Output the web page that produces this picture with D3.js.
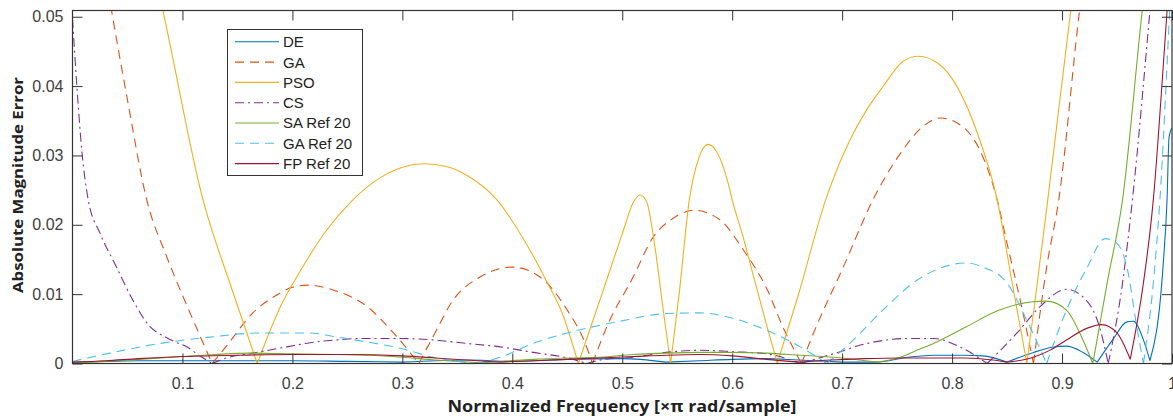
<!DOCTYPE html>
<html><head><meta charset="utf-8">
<script src="https://cdn.jsdelivr.net/npm/d3@7"></script>
<style>body{margin:0;background:#fff}svg{display:block}</style></head>
<body><svg id="c" width="1173" height="416"></svg>
<script>
const seriesNames = ["DE","GA","PSO","CS","SA Ref 20","GA Ref 20","FP Ref 20"];
const seriesColors = ["#0072BD","#D95319","#EDB120","#7E2F8E","#77AC30","#4DBEEE","#A2142F"];
const seriesDash = [null,"9,6",null,"9,4,2,4",null,"9,6",null];
const xTicks = [0.1,0.2,0.3,0.4,0.5,0.6,0.7,0.8,0.9,1];
const xTickLabels = ["0.1","0.2","0.3","0.4","0.5","0.6","0.7","0.8","0.9","1"];
const yTicks = [0,0.01,0.02,0.03,0.04,0.05];
const yTickLabels = ["0","0.01","0.02","0.03","0.04","0.05"];

const dePts = [[0,0.0002],[0.03,0.0003],[0.06,0.0004],[0.1,0.0004],[0.15,0.0004],[0.2,0.0004],[0.25,0.0003],[0.3,0.0002],[0.33,0.0004],[0.36,0.0005],[0.39,0.0003],[0.42,0.0004],[0.45,0.0006],[0.5,0.0007],[0.54,0.0002],[0.57,0.0004],[0.6,0.0006],[0.63,0.0007],[0.66,0.0005],[0.70,0.0002],[0.73,0.0002],[0.76,0.0009],[0.783,0.0012],[0.81,0.0012],[0.828,0.0011],[0.85,0.0002],[0.874,0.0016],[0.89,0.0023],[0.904,0.0025],[0.919,0.0016],[0.932,0.0002],[0.946,0.0034],[0.959,0.006],[0.965,0.0061],[0.974,0.0034],[0.98,0.0004],[0.9918,0.0139],[0.9955,0.0236],[0.9973,0.0326],[1.0,0.034]];
const gaPts = [[0.028,0.058],[0.0356,0.0508],[0.05,0.038],[0.0675,0.0236],[0.0857,0.0154],[0.105,0.008],[0.127,0],[0.14,0.0025],[0.164,0.0073],[0.185,0.0098],[0.2,0.011],[0.215,0.0113],[0.237,0.0106],[0.268,0.0082],[0.292,0.0044],[0.315,0],[0.33,0.0045],[0.346,0.0091],[0.371,0.0125],[0.40,0.0139],[0.425,0.0125],[0.45,0.0077],[0.465,0.0034],[0.473,0],[0.486,0.0053],[0.51,0.0125],[0.528,0.0182],[0.545,0.0208],[0.565,0.0221],[0.589,0.0207],[0.61,0.0164],[0.632,0.0106],[0.646,0.0053],[0.663,0],[0.674,0.0044],[0.701,0.0139],[0.728,0.0236],[0.753,0.0303],[0.773,0.0341],[0.789,0.0354],[0.81,0.0341],[0.828,0.0298],[0.841,0.0236],[0.85,0.0173],[0.862,0.0091],[0.874,0],[0.886,0.0139],[0.897,0.0236],[0.916,0.051],[0.925,0.062]];
const psoPts = [[0.07,0.0594],[0.0823,0.0508],[0.1187,0.0236],[0.145,0.0107],[0.168,0],[0.19,0.0085],[0.207,0.0133],[0.23,0.019],[0.255,0.0236],[0.28,0.0268],[0.30,0.0283],[0.32,0.0288],[0.34,0.0284],[0.36,0.027],[0.386,0.0236],[0.41,0.018],[0.432,0.0116],[0.446,0.007],[0.46,0],[0.48,0.0093],[0.50,0.0187],[0.51,0.0232],[0.516,0.0243],[0.522,0.0234],[0.53,0.0165],[0.537,0.008],[0.544,0],[0.552,0.0104],[0.561,0.0236],[0.57,0.0298],[0.578,0.0316],[0.586,0.0305],[0.596,0.0262],[0.60,0.0236],[0.61,0.0182],[0.62,0.0122],[0.63,0.0063],[0.641,0],[0.66,0.0098],[0.685,0.0236],[0.707,0.0322],[0.722,0.0365],[0.737,0.0399],[0.755,0.0435],[0.769,0.0443],[0.785,0.0435],[0.799,0.0413],[0.823,0.0332],[0.841,0.0236],[0.855,0.0113],[0.868,0],[0.877,0.011],[0.887,0.0236],[0.898,0.038],[0.908,0.051],[0.915,0.06]];
const csPts = [[0,0.0497],[0.0038,0.0404],[0.0084,0.0308],[0.0143,0.0236],[0.025,0.0188],[0.04,0.0139],[0.055,0.0091],[0.0705,0.0053],[0.085,0.0038],[0.095,0.003],[0.104,0.0024],[0.115,0.0012],[0.127,0],[0.14,0.0008],[0.164,0.0015],[0.195,0.0024],[0.216,0.003],[0.24,0.0034],[0.261,0.0036],[0.298,0.0036],[0.328,0.0034],[0.358,0.0029],[0.389,0.0024],[0.419,0.0016],[0.45,0.0008],[0.468,0],[0.48,0.0005],[0.51,0.0009],[0.54,0.0016],[0.571,0.0019],[0.601,0.0017],[0.631,0.0014],[0.662,0],[0.692,0.0014],[0.723,0.0029],[0.759,0.0036],[0.783,0.0036],[0.807,0.0024],[0.832,0],[0.859,0.0044],[0.88,0.0082],[0.904,0.0107],[0.919,0.0096],[0.934,0.0053],[0.942,0],[0.955,0.0116],[0.964,0.0236],[0.98,0.051],[0.985,0.06]];
const saPts = [[0,0.0001],[0.03,0.0003],[0.06,0.0006],[0.1,0.001],[0.13,0.0013],[0.16,0.0015],[0.2,0.0014],[0.24,0.0013],[0.27,0.0012],[0.3,0.0009],[0.33,0.0005],[0.373,0.0001],[0.419,0.0006],[0.45,0.0008],[0.48,0.0009],[0.51,0.0013],[0.54,0.0015],[0.571,0.0016],[0.6,0.0016],[0.631,0.0015],[0.662,0.0012],[0.692,0.0009],[0.732,0.0002],[0.753,0.0009],[0.768,0.0019],[0.783,0.0029],[0.813,0.0053],[0.843,0.0077],[0.873,0.0089],[0.886,0.009],[0.904,0.0077],[0.919,0.0034],[0.928,0],[0.941,0.0116],[0.955,0.0236],[0.973,0.051],[0.978,0.058]];
const gaRefPts = [[0,0.0003],[0.034,0.0015],[0.08,0.0029],[0.125,0.0038],[0.17,0.0044],[0.216,0.0044],[0.237,0.0039],[0.268,0.0031],[0.298,0.0022],[0.328,0.0009],[0.368,0],[0.389,0.0009],[0.419,0.0029],[0.45,0.0044],[0.495,0.006],[0.54,0.0072],[0.571,0.0073],[0.601,0.0065],[0.631,0.0048],[0.662,0.0024],[0.686,0],[0.707,0.0029],[0.737,0.0077],[0.768,0.012],[0.798,0.0142],[0.813,0.0145],[0.828,0.0139],[0.85,0.0116],[0.868,0.0062],[0.886,0],[0.904,0.0077],[0.923,0.0139],[0.939,0.018],[0.95,0.0173],[0.959,0.0139],[0.968,0.0053],[0.974,0],[0.983,0.0116],[0.989,0.0236],[0.998,0.051],[1.0,0.057]];
const fpPts = [[0,0.0002],[0.03,0.0004],[0.06,0.0007],[0.1,0.001],[0.15,0.0012],[0.2,0.0013],[0.25,0.0013],[0.3,0.0011],[0.33,0.0008],[0.358,0.0005],[0.389,0.0002],[0.42,0.0004],[0.45,0.0006],[0.48,0.0008],[0.51,0.001],[0.54,0.0012],[0.571,0.0013],[0.6,0.0011],[0.631,0.0006],[0.662,0.0002],[0.69,0.0005],[0.72,0.0007],[0.753,0.0008],[0.79,0.0008],[0.813,0.0008],[0.837,0.0005],[0.85,0.0002],[0.874,0.0009],[0.89,0.002],[0.904,0.0034],[0.923,0.0051],[0.936,0.0056],[0.95,0.0044],[0.962,0.0006],[0.974,0.0116],[0.983,0.0236],[0.992,0.0428],[0.996,0.052]];
const allSeries = [dePts,gaPts,psoPts,csPts,saPts,gaRefPts,fpPts];

const svg = d3.select("#c");
const L = 72.5, R = 1172, T = 10.5, B = 363.5;
const x = d3.scaleLinear().domain([0,1]).range([L,R]);
const y = d3.scaleLinear().domain([0,0.0509]).range([B,T]);
const axisCol = "#333";
const font = "'Liberation Sans', Arial, sans-serif";

svg.append("defs").append("clipPath").attr("id","clip")
  .append("rect").attr("x",L).attr("y",T).attr("width",R-L).attr("height",B-T);

// split each series at local minima so V-shaped zeros stay sharp
function lobes(pts){
  const segs=[]; let cur=[pts[0]];
  for(let i=1;i<pts.length;i++){
    cur.push(pts[i]);
    if(i<pts.length-1 && pts[i][1]<pts[i-1][1] && pts[i][1]<=pts[i+1][1]){ segs.push(cur); cur=[pts[i]]; }
  }
  segs.push(cur); return segs;
}
const line = d3.line().x(d=>x(d[0])).y(d=>y(d[1])).curve(d3.curveMonotoneX);

const g = svg.append("g").attr("clip-path","url(#clip)");
allSeries.forEach((pts,i)=>{
  g.append("path").attr("d", lobes(pts).map(s=>line(s)).join(""))
    .attr("fill","none").attr("stroke",seriesColors[i]).attr("stroke-width",1.1)
    .attr("stroke-dasharray",seriesDash[i]);
});

// axes
const fmtX = d=>xTickLabels[xTicks.indexOf(d)];
const fmtY = d=>yTickLabels[yTicks.indexOf(d)];
const ax = svg.append("g").attr("transform",`translate(0,${B})`)
  .call(d3.axisBottom(x).tickValues(xTicks).tickFormat(fmtX).tickSizeInner(-10).tickSizeOuter(0).tickPadding(14));
const ay = svg.append("g").attr("transform",`translate(${L},0)`)
  .call(d3.axisLeft(y).tickValues(yTicks).tickFormat(fmtY).tickSizeInner(-10).tickSizeOuter(0).tickPadding(9));
const axt = svg.append("g").attr("transform",`translate(0,${T})`)
  .call(d3.axisTop(x).tickValues(xTicks).tickFormat("").tickSizeInner(-10).tickSizeOuter(0));
const ayr = svg.append("g").attr("transform",`translate(${R},0)`)
  .call(d3.axisRight(y).tickValues(yTicks).tickFormat("").tickSizeInner(-10).tickSizeOuter(0));
[ax,ay,axt,ayr].forEach(a=>{
  a.select(".domain").remove();
  a.selectAll("line").attr("stroke",axisCol).attr("stroke-width",1);
  a.selectAll("text").attr("fill","#404040").style("font-family",font).style("font-size","16px");
});
svg.append("rect").attr("x",L).attr("y",T).attr("width",R-L).attr("height",B-T)
  .attr("fill","none").attr("stroke",axisCol).attr("stroke-width",1.2);

// axis titles
svg.append("text").attr("x",622).attr("y",411.5).attr("text-anchor","middle")
  .attr("textLength",349).attr("lengthAdjust","spacingAndGlyphs")
  .style("font-family","'Open Sans', sans-serif").style("font-weight","bold").style("font-size","16px").attr("fill","#222")
  .text("Normalized Frequency [\u00D7\u03C0 rad/sample]");
svg.append("text").attr("transform","translate(23,185) rotate(-90)").attr("text-anchor","middle")
  .attr("textLength",216).attr("lengthAdjust","spacingAndGlyphs")
  .style("font-family","'Open Sans', sans-serif").style("font-weight","bold").style("font-size","15px").attr("fill","#222")
  .text("Absolute Magnitude Error");

// legend
const lg = svg.append("g");
lg.append("rect").attr("x",227.5).attr("y",29.5).attr("width",135).attr("height",146)
  .attr("fill","#fff").attr("stroke",axisCol).attr("stroke-width",1);
seriesNames.forEach((n,i)=>{
  const yy = 41.8 + i*20.3;
  lg.append("line").attr("x1",235).attr("x2",279).attr("y1",yy).attr("y2",yy)
    .attr("stroke",seriesColors[i]).attr("stroke-width",1.1).attr("stroke-dasharray",seriesDash[i]);
  lg.append("text").attr("x",283).attr("y",yy).attr("dy","0.36em")
    .style("font-family",font).style("font-size","15px").attr("fill","#222").text(n);
});
</script></body></html>
